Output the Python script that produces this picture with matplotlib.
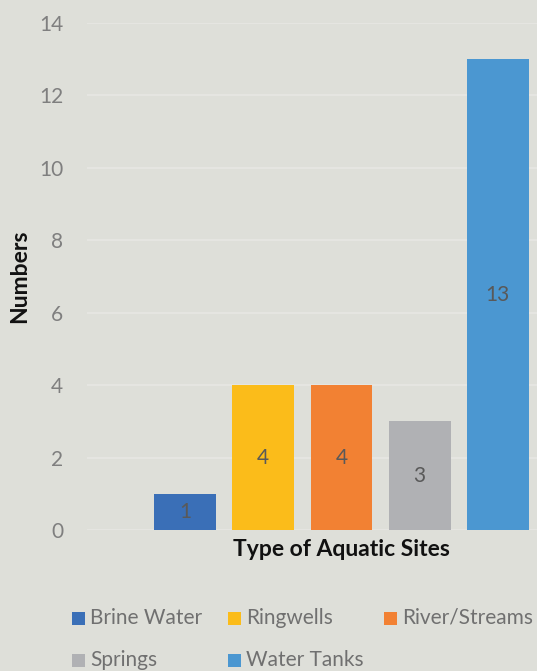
import matplotlib.pyplot as plt
from matplotlib.patches import Rectangle

sites = ["Brine Water", "Ringwells", "River/Streams", "Springs", "Water Tanks"]
counts = [1, 4, 4, 3, 13]
colors = ["#3a6fb7", "#fbbc1a", "#f28133", "#b0b1b4", "#4b97d1"]
y_ticks = [0, 2, 4, 6, 8, 10, 12, 14]

bg = "#dedfd9"
plt.rcParams["font.family"] = ["Lato", "DejaVu Sans"]

W, H = 537, 671
fig = plt.figure(figsize=(W / 100, H / 100), dpi=100, facecolor=bg)
# plot box in pixels: left 87, right 537, top 23, bottom 530
ax = fig.add_axes([87 / W, 1 - 530 / H, (537 - 87) / W, (530 - 23) / H], facecolor=bg)

positions = list(range(1, len(sites) + 1))
bars = ax.bar(positions, counts, width=0.79, color=colors, zorder=2)
for rect, value in zip(bars, counts):
    ax.text(rect.get_x() + rect.get_width() / 2, value / 2, str(value),
            ha="center", va="center", fontsize=15, color="#595959", zorder=3)

ax.set_xlim(-0.252, 5.5)
ax.set_ylim(0, 14)
ax.set_yticks(y_ticks)
ax.set_xticks([])
ax.grid(axis="y", color="#e6e6e2", linewidth=1.3, zorder=0)
ax.tick_params(axis="y", length=0, labelsize=15, labelcolor="#7f7f7f", pad=17)
for spine in ax.spines.values():
    spine.set_visible(False)

fig.text(20 / W, 1 - 276 / H, "Numbers", rotation=90, ha="center", va="center",
         fontsize=16.5, fontweight="bold", color="#111111")
fig.text(341 / W, 1 - 550 / H, "Type of Aquatic Sites", ha="center", va="center",
         fontsize=16.5, fontweight="bold", color="#111111")

# legend laid out in rows of three, as in a spreadsheet chart
col_x = [72, 228, 384]
row_y = [618, 660]
for i, (name, color) in enumerate(zip(sites, colors)):
    x, y = col_x[i % 3], row_y[i // 3]
    fig.patches.append(Rectangle((x / W, 1 - (y + 6.5) / H), 13 / W, 13 / H,
                                 transform=fig.transFigure, facecolor=color,
                                 edgecolor="none"))
    fig.text((x + 18) / W, 1 - y / H, name, ha="left", va="center",
             fontsize=15, color="#707070")

fig.savefig("out.png", dpi=100, facecolor=bg)
